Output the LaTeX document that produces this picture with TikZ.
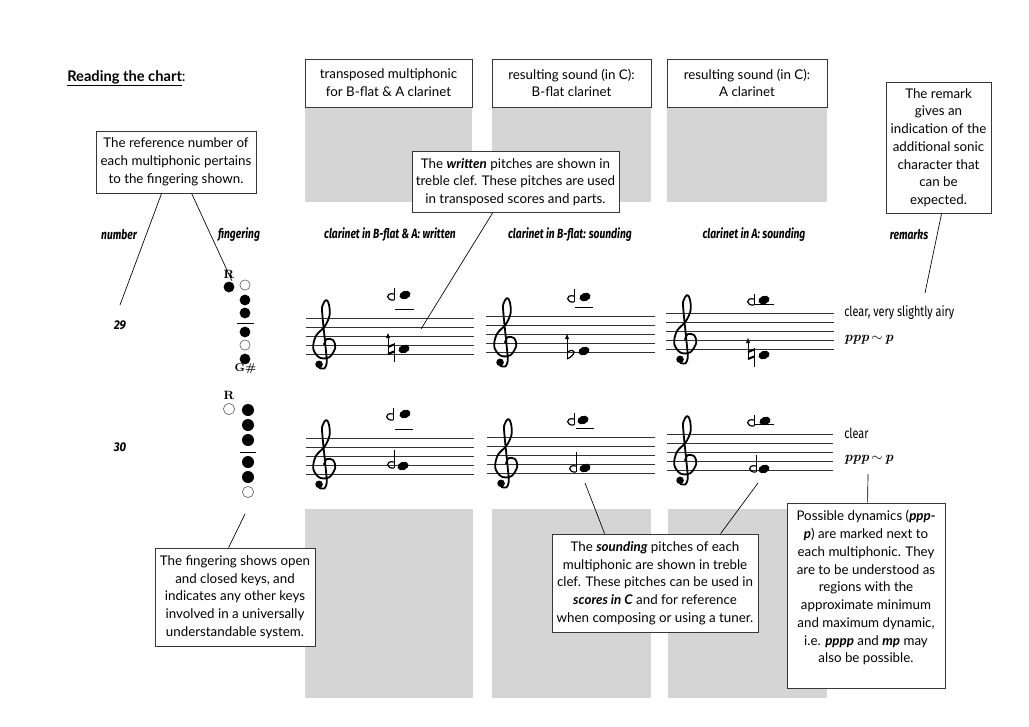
\documentclass[tikz,border=0pt]{standalone}
\usepackage{fontspec}
\setsansfont{Lato}
\newfontfamily\condfont[FakeStretch=0.77]{Fira Sans}
\newfontfamily\remfont[FakeStretch=0.78]{Fira Sans}
\newfontfamily\numfont[FakeStretch=0.9]{Fira Sans}
\definecolor{panel}{RGB}{213,213,213}
\definecolor{edge}{RGB}{55,55,55}
\tikzset{
  panelfill/.style={fill=panel, draw=none},
  infobox/.style={draw=edge, line width=0.6pt, fill=white, align=center, inner sep=0pt,
    font=\sffamily\fontsize{10}{13.3}\selectfont},
  hdr/.style={font=\condfont\bfseries\itshape\fontsize{10}{11}\selectfont, inner sep=0pt},
  numlabel/.style={font=\numfont\bfseries\itshape\fontsize{9.5}{11}\selectfont, inner sep=0pt},
  remtext/.style={font=\remfont\fontsize{10.5}{12}\selectfont, inner sep=0pt, anchor=west},
  dyntext/.style={font=\rmfamily\bfseries\itshape\fontsize{10.5}{12}\selectfont, inner sep=0pt, anchor=west},
  keylabel/.style={font=\rmfamily\bfseries\fontsize{9}{9}\selectfont, inner sep=0pt},
  leader/.style={draw=black, line width=0.5pt},
  staffline/.style={draw=black!80, line width=0.55pt},
  ledger/.style={draw=black, line width=0.6pt},
  closedkey/.style={fill=black},
  openkey/.style={draw=black!60, line width=0.5pt, fill=white},
  tclef/.pic={
    \draw[line width=1.35pt, line cap=round, line join=round, xscale=9, yscale=-9]
      plot[smooth, tension=0.55] coordinates {(0.0,0.05) (0.3,0.65) (1.0,0.55) (1.25,-0.3) (0.6,-1.35) (-0.5,-1.4) (-1.2,-0.4) (-0.9,1.0) (0.1,2.1) (0.62,3.3) (0.55,4.5) (0.25,5.0) (-0.2,4.3) (-0.15,3.0) (0.05,1.0) (0.25,-1.0) (0.3,-2.0) (0.05,-2.6) (-0.5,-2.55)};
    \fill[xscale=9, yscale=-9] (-0.55,-2.15) circle (0.42);
  }
}
\newcommand\staffat[3]{\foreach \i in {0,...,4}{\draw[staffline] (#1,#3+9*\i) -- (#2,#3+9*\i);}}
\newcommand\nhead[2]{\fill[rotate around={20:(#1,#2)}] (#1,#2) ellipse (5.7 and 4.1);}
\newcommand\rflat[3]{\draw[line width=0.5pt] (#1,#2-#3) -- (#1,#2);
  \draw[line width=0.9pt] (#1,#2-6) .. controls (#1-9,#2-8) and (#1-8,#2+1) .. (#1,#2);}
\newcommand\natup[2]{\draw[line width=0.5pt] (#1,#2+3) -- (#1,#2+21);
  \draw[line width=0.5pt] (#1+6,#2+10) -- (#1+6,#2+29);
  \draw[line width=1.6pt] (#1,#2+14) -- (#1+6,#2+11.5);
  \draw[line width=1.6pt] (#1,#2+21) -- (#1+6,#2+18.5);
  \fill (#1,#2) -- (#1-2,#2+5) -- (#1+2,#2+5) -- cycle;}
\newcommand\flatup[2]{\draw[line width=0.5pt] (#1,#2+3) -- (#1,#2+25);
  \draw[line width=0.9pt] (#1,#2+18) .. controls (#1+10,#2+13) and (#1+9,#2+21) .. (#1,#2+25);
  \fill (#1,#2) -- (#1-2,#2+5) -- (#1+2,#2+5) -- cycle;}
\begin{document}
\begin{tikzpicture}[x=0.75pt,y=-0.75pt]
\useasboundingbox (0,0) rectangle (1029,726);
\fill[white] (0,0) rectangle (1029,726);
% grey panels
\fill[panelfill] (305,59) rectangle (472,202);
\fill[panelfill] (492,59) rectangle (651,202);
\fill[panelfill] (667,59) rectangle (827,202);
\fill[panelfill] (305,509) rectangle (473,698);
\fill[panelfill] (492,509) rectangle (651,698);
\fill[panelfill] (668,509) rectangle (827,698);
% title
\node[anchor=base west, inner sep=0pt, font=\sffamily\fontsize{11}{12}\selectfont] (title) at (67,81) {\textbf{\underline{Reading the chart}}:};
% header boxes
\node[infobox, minimum width=125.25pt, minimum height=36pt] (hb1) at (388.5,83) {transposed multiphonic\\for B-flat \& A clarinet};
\node[infobox, minimum width=119.25pt, minimum height=36pt] (hb2) at (571.5,83) {resulting sound (in C):\\B-flat clarinet};
\node[infobox, minimum width=120pt, minimum height=36pt] (hb3) at (747,83) {resulting sound (in C):\\A clarinet};
% column headers
\node[hdr] (hnum) at (119,235) {number};
\node[hdr] (hfing) at (239,235) {fingering};
\node[hdr] (hwr) at (390,235) {clarinet in B-flat \& A: written};
\node[hdr] (hbf) at (570,235) {clarinet in B-flat: sounding};
\node[hdr] (ha) at (754,235) {clarinet in A: sounding};
\node[hdr] (hrem) at (909,235) {remarks};
% numbers
\node[numlabel] (n29) at (120,325) {29};
\node[numlabel] (n30) at (120,447) {30};
% fingering 29
\node[keylabel] (r29) at (229,274) {R};
\fill[closedkey] (229,287) circle (5.4);
\draw[openkey] (245,285) circle (5.1);
\fill[closedkey] (245,300) circle (5.4);
\fill[closedkey] (245,313) circle (5.4);
\draw[line width=0.6pt] (237,323) -- (254,323);
\fill[closedkey] (245,332) circle (5.4);
\draw[openkey] (245,345) circle (5.1);
\fill[closedkey] (245,359) circle (5.4);
\node[keylabel, font=\rmfamily\bfseries\fontsize{8.5}{9}\selectfont] (g29) at (245.5,369) {G\#};
% fingering 30
\node[keylabel] (r30) at (229,395) {R};
\draw[openkey] (229,409) circle (5.6);
\fill[closedkey] (248,410) circle (6);
\fill[closedkey] (248,425) circle (6);
\fill[closedkey] (248,440) circle (6);
\draw[line width=0.6pt] (240,452) -- (256,452);
\fill[closedkey] (248,462) circle (6);
\fill[closedkey] (248,477) circle (6);
\draw[openkey] (248,492) circle (5.6);
% staves row 29
\staffat{306}{474}{318}
\staffat{486}{655}{316}
\staffat{666}{834}{313}
\pic at (324,345) {tclef};
\pic at (505,343) {tclef};
\pic at (685,340) {tclef};
% row 29 col 1
\draw[ledger] (395,309) -- (414,309);
\rflat{394}{300}{12}\nhead{405}{295}
\natup{388}{333}\nhead{404}{349}
% row 29 col 2
\draw[ledger] (575,307) -- (593,307);
\rflat{574}{302}{13}\nhead{585}{297}
\flatup{567}{334}\nhead{584}{351}
% row 29 col 3
\draw[ledger] (755,304) -- (774,304);
\rflat{754}{305}{11}\nhead{764}{300}
\natup{748}{338}\nhead{764}{355}
% staves row 30
\staffat{306}{474}{438}
\staffat{487}{655}{437}
\staffat{667}{833}{434}
\pic at (324,465) {tclef};
\pic at (506,464) {tclef};
\pic at (685,461) {tclef};
% row 30 col 1
\draw[ledger] (395,429) -- (413,429);
\rflat{393}{420}{12}\nhead{405}{414}
\rflat{394}{468}{18}\nhead{403}{466}
% row 30 col 2
\draw[ledger] (576,428) -- (594,428);
\rflat{574}{425}{12}\nhead{583}{420}
\rflat{576}{472}{20}\nhead{585}{468}
% row 30 col 3
\draw[ledger] (755,424) -- (774,424);
\rflat{754}{426}{11}\nhead{765}{421}
\rflat{756}{472}{17}\nhead{764}{469}
% remarks
\node[remtext] (rem29) at (844,313) {clear, very slightly airy};
\node[dyntext] (dyn29) at (844,340) {ppp\,$\sim$\,p};
\node[remtext] (rem30) at (844,433) {clear};
\node[dyntext] (dyn30) at (844,460) {ppp\,$\sim$\,p};
% explanation boxes
\node[infobox, minimum width=120pt, minimum height=46.5pt] (refbox) at (176,162) {The reference number of\\each multiphonic pertains\\to the fingering shown.};
\node[infobox, minimum width=155.25pt, minimum height=45.75pt] (writtenbox) at (515.5,182) {The \textbf{\textit{written}} pitches are shown in\\treble clef. These pitches are used\\in transposed scores and parts.};
\node[infobox, minimum width=78.75pt, minimum height=98.25pt] (remarkbox) at (938.5,147.5) {The remark\\gives an\\indication of the\\additional sonic\\character that\\can be\\expected.};
\node[infobox, minimum width=120pt, minimum height=73.5pt] (fingbox) at (235,597) {The fingering shows open\\and closed keys, and\\indicates any other keys\\involved in a universally\\understandable system.};
\node[infobox, minimum width=154.5pt, minimum height=73.5pt] (soundbox) at (655,583) {The \textbf{\textit{sounding}} pitches of each\\multiphonic are shown in treble\\clef. These pitches can be used in\\\textbf{\textit{scores in C}} and for reference\\when composing or using a tuner.};
\node[infobox, minimum width=118.5pt, minimum height=138.75pt] (dynbox) at (866,595.5) {Possible dynamics (\textbf{\textit{ppp-}}\\\textbf{\textit{p}}) are marked next to\\each multiphonic. They\\are to be understood as\\regions with the\\approximate minimum\\and maximum dynamic,\\i.e. \textbf{\textit{pppp}} and \textbf{\textit{mp}} may\\also be possible.\\\mbox{}};
% leader end points
\coordinate (cnum) at (120,305);
\coordinate (cfing) at (232,281);
\coordinate (cwr) at (421,329);
\coordinate (crem) at (925,293);
\coordinate (ckeys) at (245,514);
\coordinate (csnd1) at (585,483);
\coordinate (csnd2) at (758,483);
\coordinate (cdyn) at (868,474);
\draw[leader] ([xshift=49.5pt]refbox.south west) -- (cnum);
\draw[leader] ([xshift=72pt]refbox.south west) -- (cfing);
\draw[leader] ([xshift=60.75pt]writtenbox.south west) -- (cwr);
\draw[leader] ([xshift=42pt]remarkbox.south west) -- (crem);
\draw[leader] ([xshift=55.5pt]fingbox.north west) -- (ckeys);
\draw[leader] ([xshift=39.75pt]soundbox.north west) -- (csnd1);
\draw[leader] ([xshift=126.75pt]soundbox.north west) -- (csnd2);
\draw[leader] ([xshift=60.75pt]dynbox.north west) -- (cdyn);
\end{tikzpicture}
\end{document}
